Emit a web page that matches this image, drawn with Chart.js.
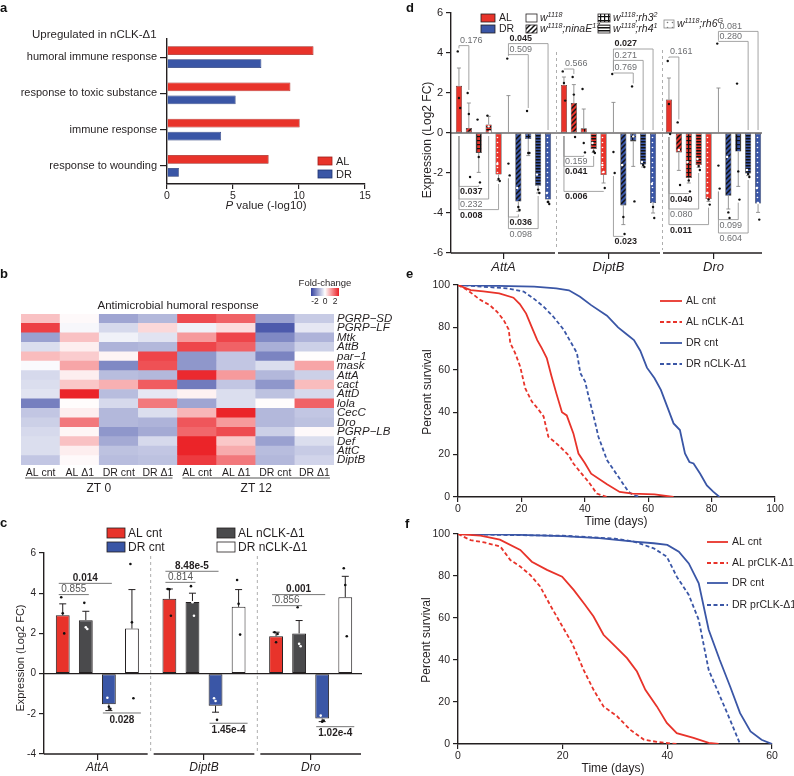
<!DOCTYPE html>
<html>
<head>
<meta charset="utf-8">
<title>nCLK immune response figure</title>
<script src="https://cdn.jsdelivr.net/npm/chart.js@4.4.1/dist/chart.umd.min.js"></script>
<style>
  body { margin: 0; background: #fff; }
  #page { position: relative; width: 794px; height: 776px; overflow: hidden; font-family: "Liberation Sans", Arial, sans-serif; }
  #page canvas { position: absolute; left: 0; top: 0; }
  .tag { position: absolute; font-weight: bold; font-size: 13px; line-height: 13px; color: #111; }
</style>
</head>
<body>
<div id="page">
  <canvas id="chartA" width="794" height="776"></canvas>
  <canvas id="chartB" width="794" height="776"></canvas>
  <canvas id="chartC" width="794" height="776"></canvas>
  <canvas id="chartD" width="794" height="776"></canvas>
  <canvas id="chartE" width="794" height="776"></canvas>
  <canvas id="chartF" width="794" height="776"></canvas>
  <div class="tag" style="left:0;top:1px">a</div>
  <div class="tag" style="left:0;top:267px">b</div>
  <div class="tag" style="left:0;top:516px">c</div>
  <div class="tag" style="left:406px;top:1px">d</div>
  <div class="tag" style="left:406px;top:267px">e</div>
  <div class="tag" style="left:405px;top:517px">f</div>
</div>
<script>
// ---- panel a : GO terms ----
const goTerms = ['humoral immune response', 'response to toxic substance', 'immune response', 'response to wounding'];
const goAL = [11.1, 9.35, 10.05, 7.7];
const goDR = [7.15, 5.2, 4.1, 0.9];

// ---- panel b : heatmap (fold-change) ----
const hmGenes = ['PGRP\u2212SD', 'PGRP\u2212LF', 'Mtk', 'AttB', 'par\u22121', 'mask', 'AttA', 'cact',
                 'AttD', 'lola', 'CecC', 'Dro', 'PGRP\u2212LB', 'Def', 'AttC', 'DiptB'];
const hmSamples = ['AL cnt', 'AL \u03941', 'DR cnt', 'DR \u03941', 'AL cnt', 'AL \u03941', 'DR cnt', 'DR \u03941'];
const hmValues = [
  [0.55, 0.05, -0.95, -0.75, 1.6, 1.4, -1.0, -0.55],
  [1.7, -0.08, -0.4, 0.35, -0.15, 0.3, -1.75, -0.25],
  [-1.0, 0.55, -0.15, -0.3, 0.9, 1.65, -1.25, -0.8],
  [-0.35, 0.15, -0.8, -0.75, 1.65, 1.4, -0.85, -0.5],
  [0.6, 0.45, 0.1, 1.65, -1.1, -0.6, -1.3, 0.02],
  [-0.05, 0.8, -1.25, 1.55, -1.1, -0.6, -0.35, 0.8],
  [-0.4, 0.15, -0.7, -0.75, 1.9, 0.9, -0.75, -0.5],
  [-0.35, 0.5, 0.7, 1.45, -1.4, -0.6, -1.1, 0.6],
  [-0.3, 1.95, -0.7, -0.25, 0.12, -0.35, -0.65, -0.4],
  [-1.35, 0.03, -0.4, 1.2, -0.95, -0.35, 0.03, 1.4],
  [-0.6, 0.15, -0.75, -0.35, 0.65, 1.95, -0.75, -0.6],
  [-0.5, 1.2, -0.75, -0.8, 1.5, 0.9, -0.75, -0.65],
  [-0.4, 0.08, -1.1, -0.9, 1.35, 1.6, -0.5, 0.05],
  [-0.35, 0.55, -0.9, -0.4, 1.95, 0.5, -1.0, -0.35],
  [-0.35, 0.15, -0.65, -0.6, 1.95, 0.75, -0.7, -0.55],
  [-0.6, 0.05, -0.7, -0.65, 1.75, 1.2, -0.75, -0.45]
];

// ---- panel c : qPCR nCLK-Δ1 ----
const cGenes = ['AttA', 'DiptB', 'Dro'];
const cGroups = ['AL cnt', 'AL nCLK-\u03941', 'DR cnt', 'DR nCLK-\u03941'];
const cALcnt = [2.9, 3.72, 1.86];
const cALnclk = [2.66, 3.56, 2.0];
const cDRcnt = [-1.53, -1.6, -2.24];
const cDRnclk = [2.24, 3.32, 3.8];
const cALcntErr = [3.47, 4.21, 2.06];
const cALnclkErr = [3.1, 4.0, 2.64];
const cDRcntErr = [-1.84, -1.92, -2.39];
const cDRnclkErr = [4.18, 4.18, 4.84];
const cALcntPts = [[3.8, 3.0, 2.0], [4.21, 4.2, 2.88], [2.06, 1.56, 1.97]];
const cALnclkPts = [[3.52, 2.3, 2.22], [4.35, 3.55, 2.88], [3.3, 1.48, 1.36]];
const cDRcntPts = [[-1.2, -1.65, -1.75], [-1.23, -1.36, -2.3], [-2.09, -2.39, -2.34]];
const cDRnclkPts = [[5.45, 2.55, -1.23], [4.66, 3.47, 1.94], [5.24, 4.41, 1.86]];
// [gene, bar i, bar j, level, p value, bold]
const cTests = [
  [0, 0, 2, 4.49, '0.014', true], [0, 0, 1, 3.93, '0.855', false], [0, 2, 3, -1.96, '0.028', true],
  [1, 0, 2, 5.09, '8.48e-5', true], [1, 0, 1, 4.54, '0.814', false], [1, 2, 3, -2.47, '1.45e-4', true],
  [2, 0, 2, 3.93, '0.001', true], [2, 0, 1, 3.38, '0.856', false], [2, 2, 3, -2.64, '1.02e-4', true]
];

// ---- panel d : photoreceptor mutants ----
const dGenes = ['AttA', 'DiptB', 'Dro'];
const dLines = ['w1118', 'w1118;ninaE17', 'w1118;rh3 2', 'w1118;rh4 1', 'w1118;rh6 G'];
const dALmean = [[2.36, 0.25, -1.0, 0.43, -2.08], [2.4, 1.5, 0.24, -0.8, -2.1], [1.67, -0.97, -2.25, -1.6, -3.3]];
const dDRmean = [[0, -3.43, -0.3, -2.64, -3.33], [0, -3.62, -0.42, -1.58, -3.5], [0, -3.14, -0.93, -2.03, -3.53]];
const dALerr = [[3.25, 1.5, -1.97, 0.83, -2.37], [2.8, 2.42, 1.2, -0.97, -2.5], [2.75, -1.87, -2.5, -1.72, -3.42]];
const dDRerr = [[1.87, -3.92, -1.13, -3.0, -3.45], [1.53, -4.58, -1.67, -1.7, -4.0], [2.25, -3.8, -2.67, -2.13, -3.97]];
const dALpts = [
  [[4.08, 1.75, 1.25], [2.0, 0.95, -2.2], [0.67, -1.2, -2.47], [0.87, 0.33, 0.08], [-1.55, -2.3, -2.4]],
  [[3.08, 2.5, 1.62], [2.8, 1.92, -0.2], [2.2, -0.5, -0.97], [-0.5, -0.92, -1.0], [-1.6, -1.95, -2.75]],
  [[3.6, 1.45, -0.05], [0.53, -0.85, -2.6], [-1.45, -2.37, -2.92], [-1.3, -1.65, -1.85], [-3.0, -3.32, -3.58]]
];
const dDRpts = [
  [[3.72, -1.53, -2.12], [-2.75, -3.7, -3.85], [1.1, -1.0, -1.0], [-2.08, -2.83, -3.0], [-3.0, -3.45, -3.55]],
  [[2.95, -0.95, -2.0], [-1.6, -4.2, -5.05], [2.33, -0.17, -3.42], [-1.45, -1.6, -1.7], [-2.55, -3.7, -4.25]],
  [[4.47, -1.63, -2.78], [-1.2, -3.97, -4.25], [2.47, -1.92, -3.33], [-1.85, -2.05, -2.2], [-2.75, -3.5, -4.33]]
];
// [gene, bar i, bar j, level, p value, bold]  (bars 0-4 AL, 5-9 DR)
const dTests = [
  [0, 0, 1, 4.37, '0.176', false], [0, 0, 2, -2.67, '0.037', true], [0, 0, 3, -3.3, '0.232', false],
  [0, 0, 4, -3.83, '0.008', true], [0, 5, 7, 3.92, '0.509', false], [0, 5, 9, 4.47, '0.045', true],
  [0, 5, 6, -4.2, '0.036', true], [0, 5, 8, -4.78, '0.098', false],
  [1, 0, 1, 3.2, '0.566', false], [1, 0, 2, -1.17, '0.159', false], [1, 0, 3, -1.67, '0.041', true],
  [1, 0, 4, -2.92, '0.006', true], [1, 5, 7, 3.0, '0.769', false], [1, 5, 8, 3.63, '0.271', false],
  [1, 5, 9, 4.2, '0.027', true], [1, 5, 6, -5.17, '0.023', true],
  [2, 0, 1, 3.8, '0.161', false], [2, 0, 2, -3.03, '0.040', true], [2, 0, 3, -3.8, '0.080', false],
  [2, 0, 4, -4.58, '0.011', true], [2, 5, 8, 4.58, '0.280', false], [2, 5, 9, 5.08, '0.081', false],
  [2, 5, 7, -4.33, '0.099', false], [2, 5, 8, -5.0, '0.604', false]
];

// ---- panels e, f : survival [day, percent] ----
const eALcnt = [[0,100],[4,97.6],[8,97],[13,96],[17.5,94],[19.5,91],[21.5,86.5],[23.3,80],[25,74],[26.5,70],[28,65.5],[29.5,57],[31,49],[32.8,40],[34.3,38.5],[36.4,30],[38,20.5],[40,16],[42,11],[47,6],[51,2.4],[55,1.6],[62,1.2],[68,0]];
const eALnclk = [[0,100],[3,97.6],[7,93],[10,90.5],[12.3,87.4],[14.4,83.5],[16,79],[16.5,72.6],[18,68],[19.6,61.6],[21.2,51.3],[23.3,45],[25,42],[27,38],[28.5,28.4],[30.5,26],[32.2,23.7],[34.9,19.7],[36.4,15.8],[39,11],[41.2,7.1],[43.8,1.6],[47,0]];
const eDRcnt = [[0,100],[24,99.2],[31,98.4],[35,97.5],[38.5,94.5],[42,90.5],[47,85.5],[50.5,80],[53,77],[55.5,74],[57.5,69],[59.6,61],[62,56],[64,50.5],[66,42.6],[68,34.7],[70,31.6],[71.6,20.5],[73,16.5],[74.3,15.8],[76.4,11],[78.5,5.5],[80.5,2.5],[82.5,0]];
const eDRnclk = [[0,100],[8,99.2],[15.4,98.4],[20.7,96.9],[23.8,93.7],[27,89.8],[30.1,85],[33.3,79],[35.4,73.5],[37.5,68],[38.6,58.4],[40.1,54.5],[41.2,47.4],[42.8,38],[44.3,28.4],[47,17.4],[50.6,9.5],[53.8,2.4],[55.4,0.8],[57.5,0]];
const fALcnt = [[0,100],[4.3,99.2],[8,97.3],[11.9,92.4],[14.1,86.8],[17,82.9],[19.9,79.7],[22.1,73.4],[24.3,66.2],[25.9,60.7],[27.8,52],[30.1,46.4],[32.3,40.9],[34.2,34.5],[35.8,25.8],[38,17.9],[39.9,10],[41.8,5.2],[45,2.9],[47.9,0.5],[49.8,0]];
const fALprclk = [[0,100],[2.4,97.1],[5,96],[8.1,94],[10,87.6],[11.9,84.5],[13.8,80.5],[15.7,75],[17.6,66.2],[19.6,57.5],[21.8,48],[24,35.3],[25.9,25.8],[27.8,17.9],[30.4,13.2],[32.9,6.8],[35.5,2.1],[38,1],[41.8,0]];
const fDRcnt = [[0,100],[10,99.7],[20,99],[27,98],[33.6,96.4],[37.4,95.6],[40,94.8],[42.2,91.6],[44.1,86],[46,76.5],[47.9,54.4],[50,40.1],[52,27.4],[53.9,14.7],[55.9,6],[58,2],[60,0]];
const fDRprclk = [[0,100],[10,99.5],[20,99.2],[30,97.8],[33.6,96.4],[37.4,93.2],[39.9,89.2],[41.8,79.7],[44.1,71],[46,59.1],[47.9,35.3],[49.8,24.2],[51.7,13.2],[53.9,0]];

// ---------------- styling helpers ----------------
const W = 794, H = 776;
const INK = '#231f20';
const RED = '#e8332a', BLUE = '#3a56a6', DARK = '#4a4a4c';
const FONT = '"Liberation Sans", Arial, sans-serif';
Chart.defaults.font.family = FONT;
Chart.defaults.color = INK;
Chart.defaults.animation = false;

function zeroPad(s) { s.paddingTop = 0; s.paddingBottom = 0; s.paddingLeft = 0; s.paddingRight = 0; }
const fixW = n => s => { s.width = n; zeroPad(s); };
const fixH = n => s => { s.height = n; zeroPad(s); };
function lay(a, yW, xH, right) {
  return { padding: { left: right ? a.l : a.l - yW, right: right ? W - a.r - yW : W - a.r, top: a.t, bottom: H - a.b - xH } };
}
function say(ctx, s, x, y, size, o) {
  o = o || {};
  ctx.save();
  ctx.font = (o.italic ? 'italic ' : '') + (o.bold ? 'bold ' : '') + size + 'px ' + FONT;
  ctx.fillStyle = o.color || INK;
  ctx.textAlign = o.align || 'left';
  ctx.textBaseline = o.base || 'middle';
  ctx.translate(x, y);
  if (o.rot) ctx.rotate(o.rot);
  ctx.fillText(s, 0, 0);
  ctx.restore();
}
function seg(ctx, x1, y1, x2, y2, color, w, dash) {
  ctx.save();
  ctx.strokeStyle = color; ctx.lineWidth = w;
  if (dash) ctx.setLineDash(dash);
  ctx.beginPath(); ctx.moveTo(x1, y1); ctx.lineTo(x2, y2); ctx.stroke();
  ctx.restore();
}
function box(ctx, x, y, w, h, fill, stroke) {
  ctx.save();
  ctx.fillStyle = fill; ctx.fillRect(x, y, w, h);
  ctx.strokeStyle = stroke || INK; ctx.lineWidth = 0.8; ctx.strokeRect(x, y, w, h);
  ctx.restore();
}
// italic text with superscripts: parts = [[text, isSup], ...]
function rich(ctx, parts, x, y, size) {
  ctx.save();
  ctx.fillStyle = INK; ctx.textBaseline = 'middle';
  let cx = x;
  parts.forEach(([s, sup]) => {
    ctx.font = 'italic ' + (sup ? size * 0.68 : size) + 'px ' + FONT;
    ctx.fillText(s, cx, sup ? y - size * 0.32 : y);
    cx += ctx.measureText(s).width;
  });
  ctx.restore();
}
function fcColor(v) {
  const t = Math.min(Math.abs(v) / 2.0, 1);
  const end = v < 0 ? [52, 66, 160] : [234, 30, 36];
  const c = end.map(e => Math.round(255 - t * (255 - e)));
  return `rgb(${c[0]},${c[1]},${c[2]})`;
}
function pattern(base, kind, ink) {
  const n = kind === 'lines' ? 3 : kind === 'grid' ? 4 : 5;
  const p = document.createElement('canvas');
  p.width = n; p.height = n;
  const g = p.getContext('2d');
  g.fillStyle = base; g.fillRect(0, 0, n, n);
  g.fillStyle = ink; g.strokeStyle = ink;
  if (kind === 'hatch') {
    g.lineWidth = 1.5; g.beginPath();
    [0, n, 2 * n].forEach(c => { g.moveTo(c + 1, -1); g.lineTo(c - n - 1, n + 1); });
    g.stroke();
  } else if (kind === 'grid') {
    g.fillRect(0, 0, n, 1.2); g.fillRect(0, 0, 1.2, n);
  } else if (kind === 'lines') {
    g.fillRect(0, 0, n, 1.5);
  } else if (kind === 'dots') {
    g.beginPath(); g.arc(n / 2, n / 2, 0.8, 0, Math.PI * 2); g.fill();
  }
  return document.createElement('canvas').getContext('2d').createPattern(p, 'repeat');
}
const axisGrid = { drawOnChartArea: false, tickLength: 5, color: INK, tickColor: INK, lineWidth: 1.2 };
const axisBorder = { color: INK, width: 1.4 };

// ---------------- panel a ----------------
const areaA = { l: 167, r: 365, t: 39, b: 184 };
new Chart(document.getElementById('chartA'), {
  type: 'bar',
  data: {
    labels: goTerms,
    datasets: [
      { label: 'AL', data: goAL, backgroundColor: RED, borderColor: '#9d1f1a', borderWidth: 0.7, categoryPercentage: 0.72, barPercentage: 0.66 },
      { label: 'DR', data: goDR, backgroundColor: BLUE, borderColor: '#1f336f', borderWidth: 0.7, categoryPercentage: 0.72, barPercentage: 0.66 }
    ]
  },
  options: {
    indexAxis: 'y', responsive: false,
    layout: lay(areaA, 167, 30),
    plugins: { legend: { display: false }, tooltip: { enabled: false } },
    scales: {
      x: { min: 0, max: 15, ticks: { stepSize: 5, font: { size: 10.5 }, padding: 1 }, grid: axisGrid, border: axisBorder, afterFit: fixH(30) },
      y: { ticks: { font: { size: 11 }, padding: 3, autoSkip: false }, grid: { ...axisGrid, offset: false, tickLength: 7 }, border: axisBorder, afterFit: fixW(167) }
    }
  },
  plugins: [{
    id: 'panelA',
    afterDraw(c) {
      const ctx = c.ctx;
      say(ctx, 'Upregulated in nCLK-\u03941', 32, 35, 11.5);
      ctx.save();
      ctx.font = 'italic 11.5px ' + FONT; const w1 = ctx.measureText('P').width;
      ctx.font = '11.5px ' + FONT; const w2 = ctx.measureText(' value (-log10)').width;
      ctx.restore();
      const x0 = 266 - (w1 + w2) / 2;
      say(ctx, 'P', x0, 206, 11.5, { italic: true });
      say(ctx, ' value (-log10)', x0 + w1, 206, 11.5);
      box(ctx, 318, 157, 14, 8, RED, '#9d1f1a');
      box(ctx, 318, 170, 14, 8, BLUE, '#1f336f');
      say(ctx, 'AL', 336, 161.5, 11);
      say(ctx, 'DR', 336, 174.5, 11);
    }
  }]
});

// ---------------- panel b ----------------
const areaB = { l: 21, r: 334, t: 314, b: 465 };
const hmDatasets = hmGenes.map((g, r) => ({
  label: g,
  data: hmSamples.map(() => 1),
  backgroundColor: hmValues[r].map(fcColor),
  borderWidth: 0, barPercentage: 1, categoryPercentage: 1, stack: 'heat'
})).reverse();
new Chart(document.getElementById('chartB'), {
  type: 'bar',
  data: { labels: hmSamples, datasets: hmDatasets },
  options: {
    responsive: false,
    layout: lay(areaB, 70, 20, true),
    plugins: { legend: { display: false }, tooltip: { enabled: false } },
    scales: {
      x: { stacked: true, ticks: { font: { size: 10.5 }, padding: 2, autoSkip: false, maxRotation: 0 },
           grid: { display: false, drawTicks: false }, border: { display: false }, afterFit: fixH(20) },
      y: { stacked: true, min: 0, max: hmGenes.length, display: false, afterFit: fixW(0) },
      rows: { type: 'category', labels: hmGenes, position: 'right', offset: true,
              ticks: { font: { size: 11.5, style: 'italic' }, padding: 3, autoSkip: false },
              grid: { display: false, drawTicks: false }, border: { display: false }, afterFit: fixW(70) }
    }
  },
  plugins: [{
    id: 'panelB',
    afterDraw(c) {
      const ctx = c.ctx, x = c.scales.x;
      say(ctx, 'Antimicrobial humoral response', 178, 306, 11.5, { align: 'center' });
      say(ctx, 'Fold-change', 325, 283, 9.5, { align: 'center' });
      ctx.save();
      const gr = ctx.createLinearGradient(311, 0, 339, 0);
      gr.addColorStop(0, fcColor(-2.2)); gr.addColorStop(0.5, '#ffffff'); gr.addColorStop(1, fcColor(2.2));
      ctx.fillStyle = gr; ctx.fillRect(311, 288, 28, 8);
      ctx.restore();
      say(ctx, '-2', 315, 302, 8.5, { align: 'center' });
      say(ctx, '0', 325, 302, 8.5, { align: 'center' });
      say(ctx, '2', 335, 302, 8.5, { align: 'center' });
      const a0 = x.getPixelForValue(-0.5) + 4, a1 = x.getPixelForValue(3.5) - 5;
      const b0 = x.getPixelForValue(3.5) + 5, b1 = x.getPixelForValue(7.5) - 4;
      seg(ctx, a0, 478, a1, 478, '#555', 1);
      seg(ctx, b0, 478, b1, 478, '#555', 1);
      say(ctx, 'ZT 0', (a0 + a1) / 2, 489, 12, { align: 'center' });
      say(ctx, 'ZT 12', (b0 + b1) / 2, 489, 12, { align: 'center' });
    }
  }]
});

// ---------------- panel c ----------------
const areaC = { l: 44, r: 364, t: 553, b: 754 };
const cMeans = [cALcnt, cALnclk, cDRcnt, cDRnclk];
const cErrs = [cALcntErr, cALnclkErr, cDRcntErr, cDRnclkErr];
const cPts = [cALcntPts, cALnclkPts, cDRcntPts, cDRnclkPts];
const cFill = [RED, DARK, BLUE, '#ffffff'];
new Chart(document.getElementById('chartC'), {
  type: 'bar',
  data: {
    labels: cGenes,
    datasets: cGroups.map((g, i) => ({
      label: g, data: cMeans[i], backgroundColor: cFill[i], borderColor: INK, borderWidth: 1,
      borderSkipped: false, categoryPercentage: 0.865, barPercentage: 0.6
    }))
  },
  options: {
    responsive: false,
    layout: lay(areaC, 25, 30),
    plugins: { legend: { display: false }, tooltip: { enabled: false } },
    scales: {
      x: { ticks: { font: { size: 12, style: 'italic' }, padding: 0, maxRotation: 0 }, grid: { ...axisGrid, offset: false, tickLength: 6 }, border: { display: false }, afterFit: fixH(30) },
      y: { min: -4, max: 6, ticks: { stepSize: 2, font: { size: 10 }, padding: 3 }, grid: axisGrid, border: axisBorder, afterFit: fixW(25) }
    }
  },
  plugins: [{
    id: 'panelC',
    afterDraw(c) {
      const ctx = c.ctx, x = c.scales.x, y = c.scales.y, ca = c.chartArea;
      seg(ctx, ca.left, y.getPixelForValue(0), ca.right - 2, y.getPixelForValue(0), INK, 1.2);
      [0.5, 1.5].forEach(v => seg(ctx, x.getPixelForValue(v), 556, x.getPixelForValue(v), 751, '#999', 0.8, [3, 3]));
      cGenes.forEach((g, gi) => {
        const s0 = gi === 0 ? ca.left : x.getPixelForValue(gi - 0.5) + 3;
        const s1 = x.getPixelForValue(gi + 0.5) - 3;
        seg(ctx, s0, ca.bottom, s1, ca.bottom, INK, 1.4);
      });
      cGroups.forEach((grp, d) => {
        const meta = c.getDatasetMeta(d);
        cGenes.forEach((g, gi) => {
          const bx = meta.data[gi].x, m = cMeans[d][gi], e = cErrs[d][gi];
          seg(ctx, bx, y.getPixelForValue(m), bx, y.getPixelForValue(e), INK, 1);
          seg(ctx, bx - 3.5, y.getPixelForValue(e), bx + 3.5, y.getPixelForValue(e), INK, 1);
          cPts[d][gi].forEach((p, k) => {
            const inside = (m > 0 ? p < m && p > 0 : p > m && p < 0) && (d === 1 || d === 2);
            ctx.save();
            ctx.fillStyle = inside ? '#fff' : '#111';
            ctx.beginPath(); ctx.arc(bx + (k - 1) * 1.5, y.getPixelForValue(p), 1.3, 0, Math.PI * 2); ctx.fill();
            ctx.restore();
          });
        });
      });
      cTests.forEach(([gi, i, j, lvl, label, bold]) => {
        const xi = c.getDatasetMeta(i).data[gi].x, xj = c.getDatasetMeta(j).data[gi].x;
        const up = lvl > 0, py = y.getPixelForValue(lvl);
        const x0 = up ? xi - 4 : xi - 6, x1 = up ? xj + 3 : xj + 9;
        seg(ctx, x0, py, x1, py, '#777', 1);
        say(ctx, label, (x0 + x1) / 2, up ? py - 5.5 : py + 7, 10, { align: 'center', bold, color: bold ? INK : '#555' });
      });
      // legend
      box(ctx, 107, 528, 18, 10, RED); say(ctx, 'AL cnt', 128, 533.5, 12);
      box(ctx, 107, 542, 18, 10, BLUE); say(ctx, 'DR cnt', 128, 547.5, 12);
      box(ctx, 217, 528, 18, 10, DARK); say(ctx, 'AL nCLK-\u03941', 238, 533.5, 12);
      box(ctx, 217, 542, 18, 10, '#fff'); say(ctx, 'DR nCLK-\u03941', 238, 547.5, 12);
      say(ctx, 'Expression (Log2 FC)', 21, 658, 11, { align: 'center', rot: -Math.PI / 2 });
    }
  }]
});

// ---------------- panel d ----------------
const areaD = { l: 451, r: 766, t: 13, b: 253 };
const kinds = ['solid', 'hatch', 'grid', 'lines', 'dots'];
const fillFor = (base, k) => k === 'solid' ? base : pattern(base, k, k === 'dots' ? '#fff' : '#111');
const dDatasets = [];
dLines.forEach((ln, k) => dDatasets.push({ label: 'AL ' + ln, data: dGenes.map((g, gi) => dALmean[gi][k]), backgroundColor: fillFor(RED, kinds[k]) }));
dLines.forEach((ln, k) => dDatasets.push({ label: 'DR ' + ln, data: dGenes.map((g, gi) => dDRmean[gi][k]), backgroundColor: fillFor(BLUE, kinds[k]) }));
dDatasets.forEach(ds => Object.assign(ds, { borderColor: '#222', borderWidth: 0.6, borderSkipped: false, categoryPercentage: 0.943, barPercentage: 0.62 }));
const dStat = (bar, gi) => bar < 5
  ? { m: dALmean[gi][bar], e: dALerr[gi][bar], p: dALpts[gi][bar] }
  : { m: dDRmean[gi][bar - 5], e: dDRerr[gi][bar - 5], p: dDRpts[gi][bar - 5] };
new Chart(document.getElementById('chartD'), {
  type: 'bar',
  data: { labels: dGenes, datasets: dDatasets },
  options: {
    responsive: false,
    layout: lay(areaD, 25, 30),
    plugins: { legend: { display: false }, tooltip: { enabled: false } },
    scales: {
      x: { ticks: { font: { size: 13, style: 'italic' }, padding: 1, maxRotation: 0 }, grid: { ...axisGrid, offset: false, tickLength: 6 }, border: { display: false }, afterFit: fixH(30) },
      y: { min: -6, max: 6, ticks: { stepSize: 2, font: { size: 11 }, padding: 3 }, grid: axisGrid, border: axisBorder, afterFit: fixW(25) }
    }
  },
  plugins: [{
    id: 'panelD',
    afterDraw(c) {
      const ctx = c.ctx, x = c.scales.x, y = c.scales.y, ca = c.chartArea;
      seg(ctx, ca.left, y.getPixelForValue(0), 762, y.getPixelForValue(0), INK, 1.2);
      seg(ctx, 556.5, 52, 556.5, 250, '#999', 0.8, [3, 3]);
      seg(ctx, 662.5, 50, 662.5, 250, '#999', 0.8, [3, 3]);
      [[ca.left, 555], [558, 660], [663, 762]].forEach(([a, b]) => seg(ctx, a, ca.bottom, b, ca.bottom, INK, 1.4));
      for (let d = 0; d < 10; d++) {
        const meta = c.getDatasetMeta(d);
        dGenes.forEach((g, gi) => {
          const bx = meta.data[gi].x, s = dStat(d, gi);
          seg(ctx, bx, y.getPixelForValue(s.m), bx, y.getPixelForValue(s.e), '#8a8a8a', 0.9);
          seg(ctx, bx - 2, y.getPixelForValue(s.e), bx + 2, y.getPixelForValue(s.e), '#8a8a8a', 0.9);
          s.p.forEach((p, k) => {
            const inside = (s.m > 0 ? p < s.m && p > 0 : p > s.m && p < 0) && d % 5 !== 0;
            ctx.save();
            ctx.fillStyle = inside ? '#fff' : '#111';
            ctx.beginPath(); ctx.arc(bx + (k - 1) * 1.2, y.getPixelForValue(p), 1.2, 0, Math.PI * 2); ctx.fill();
            ctx.restore();
          });
        });
      }
      dTests.forEach(([gi, i, j, lvl, label, bold]) => {
        const xi = c.getDatasetMeta(i).data[gi].x, xj = c.getDatasetMeta(j).data[gi].x;
        const up = lvl > 0, py = y.getPixelForValue(lvl);
        const reach = b => {
          const s = dStat(b, gi), all = [0, s.m, s.e, ...s.p];
          return up ? Math.min(lvl, Math.max(...all) + 0.15) : Math.max(lvl, Math.min(...all) - 0.15);
        };
        ctx.save();
        ctx.strokeStyle = '#9a9a9a'; ctx.lineWidth = 0.9;
        ctx.beginPath();
        ctx.moveTo(xi, y.getPixelForValue(reach(i))); ctx.lineTo(xi, py);
        ctx.lineTo(xj, py); ctx.lineTo(xj, y.getPixelForValue(reach(j)));
        ctx.stroke();
        ctx.restore();
        say(ctx, label, xi + 1, up ? py - 5 : py + 5.5, 9, { bold, color: bold ? INK : '#6d6e71' });
      });
      // legend
      box(ctx, 481, 14, 14, 8, RED); say(ctx, 'AL', 499, 18.5, 10.5);
      box(ctx, 481, 25, 14, 8, BLUE); say(ctx, 'DR', 499, 29.5, 10.5);
      box(ctx, 526, 14, 11, 8, '#fff');
      rich(ctx, [['w'], ['1118', 1]], 540, 18.5, 10.5);
      box(ctx, 526, 25, 11, 8, pattern('#fff', 'hatch', '#111'));
      rich(ctx, [['w'], ['1118', 1], [';ninaE'], ['17', 1]], 540, 29.5, 10.5);
      box(ctx, 598, 14, 12, 8, pattern('#fff', 'grid', '#111'));
      rich(ctx, [['w'], ['1118', 1], [';rh3'], ['2', 1]], 613, 18.5, 10.5);
      box(ctx, 598, 25, 12, 8, pattern('#fff', 'lines', '#111'));
      rich(ctx, [['w'], ['1118', 1], [';rh4'], ['1', 1]], 613, 29.5, 10.5);
      box(ctx, 664, 20, 10, 8, pattern('#fff', 'dots', '#777'), '#888');
      rich(ctx, [['w'], ['1118', 1], [';rh6'], ['G', 1]], 677, 24.5, 10.5);
      say(ctx, 'Expression (Log2 FC)', 428, 140, 12, { align: 'center', rot: -Math.PI / 2 });
    }
  }]
});

// ---------------- panels e and f ----------------
function survival(id, area, xmax, series, legend, titles) {
  new Chart(document.getElementById(id), {
    type: 'line',
    data: {
      datasets: series.map(s => ({
        label: s.label, data: s.data.map(([d, p]) => ({ x: d, y: p })),
        borderColor: s.color, borderWidth: 1.8, borderDash: s.dash ? [4, 2.5] : [],
        pointRadius: 0, tension: 0, fill: false
      }))
    },
    options: {
      responsive: false,
      layout: lay(area, 40, 25),
      plugins: { legend: { display: false }, tooltip: { enabled: false } },
      scales: {
        x: { type: 'linear', min: 0, max: xmax, ticks: { stepSize: 20, font: { size: 10.5 }, padding: 1 }, grid: axisGrid, border: axisBorder, afterFit: fixH(25) },
        y: { min: 0, max: 100, ticks: { stepSize: 20, font: { size: 10.5 }, padding: 3 }, grid: axisGrid, border: axisBorder, afterFit: fixW(40) }
      }
    },
    plugins: [{
      id: id + 'Extra',
      afterDraw(c) {
        const ctx = c.ctx;
        series.forEach((s, i) => {
          const ly = legend.ys[i];
          seg(ctx, legend.x0, ly, legend.x1, ly, s.color, 1.8, s.dash ? [4, 2.5] : null);
          say(ctx, s.label, legend.tx, ly, 10.5);
        });
        say(ctx, 'Percent survival', titles.yx, titles.yy, 12, { align: 'center', rot: -Math.PI / 2 });
        say(ctx, 'Time (days)', titles.xx, titles.xy, 12, { align: 'center' });
      }
    }]
  });
}
survival('chartE', { l: 458, r: 775, t: 285, b: 497 }, 100, [
  { label: 'AL cnt', data: eALcnt, color: RED },
  { label: 'AL nCLK-\u03941', data: eALnclk, color: RED, dash: true },
  { label: 'DR cnt', data: eDRcnt, color: BLUE },
  { label: 'DR nCLK-\u03941', data: eDRnclk, color: BLUE, dash: true }
], { x0: 660, x1: 682, tx: 686, ys: [301, 322, 343, 364] }, { yx: 428, yy: 392, xx: 616, xy: 522 });
survival('chartF', { l: 458, r: 772, t: 534, b: 744 }, 60, [
  { label: 'AL cnt', data: fALcnt, color: RED },
  { label: 'AL prCLK-\u03941', data: fALprclk, color: RED, dash: true },
  { label: 'DR cnt', data: fDRcnt, color: BLUE },
  { label: 'DR prCLK-\u03941', data: fDRprclk, color: BLUE, dash: true }
], { x0: 707, x1: 728, tx: 732, ys: [542, 563, 583, 605] }, { yx: 427, yy: 640, xx: 613, xy: 769 });
</script>
</body>
</html>
